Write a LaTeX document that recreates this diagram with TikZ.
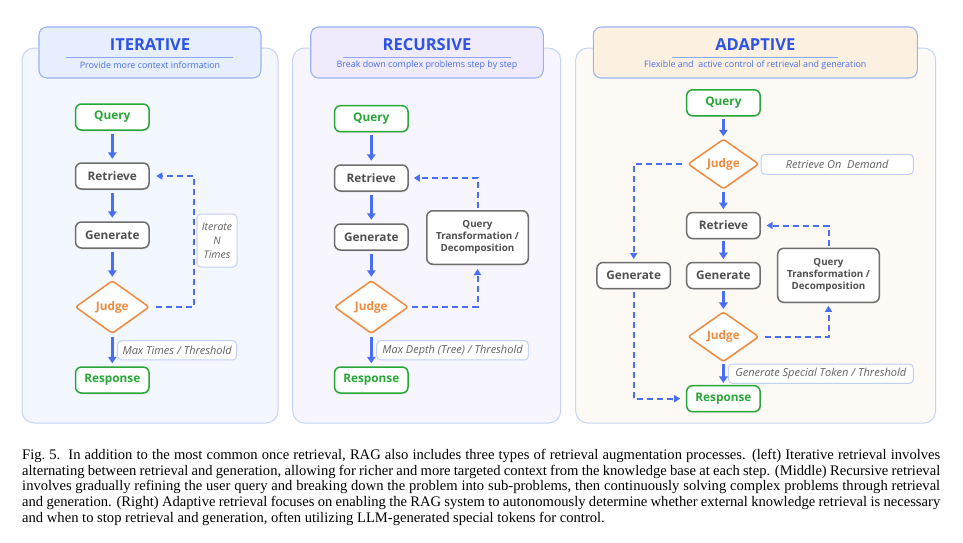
\documentclass[tikz,border=0pt]{standalone}
\usepackage{fontspec}
\setmainfont{Liberation Serif}
\newfontfamily\uisans{Open Sans}
\newcommand\uimed{\uisans\bfseries}
\usetikzlibrary{arrows.meta,shapes.geometric,shadows}
\definecolor{flowblue}{HTML}{4A6EF2}
\definecolor{titleblue}{HTML}{2D54E3}
\definecolor{subblue}{HTML}{4C6FE8}
\definecolor{qgreen}{HTML}{27A737}
\definecolor{jorange}{HTML}{EF8A3E}
\definecolor{nodegray}{HTML}{6E6E6E}
\definecolor{textgray}{HTML}{505050}
\definecolor{lblborder}{HTML}{C3D0F7}
\definecolor{lbltext}{HTML}{626262}
\definecolor{panelborder}{HTML}{C5D3F8}
\definecolor{pfillA}{HTML}{F3F7FF}
\definecolor{pfillB}{HTML}{F7F6FE}
\definecolor{pfillC}{HTML}{FDFAF6}
\definecolor{tfillA}{HTML}{E7EEFD}
\definecolor{tfillB}{HTML}{EFEBFC}
\definecolor{tfillC}{HTML}{FCF0E1}
\definecolor{titleborder}{HTML}{9CB3F2}
\definecolor{titleline}{HTML}{8FA6EE}
\tikzset{
  shadowed/.style={drop shadow={opacity=0.16, shadow xshift=0.5pt, shadow yshift=-1.3pt}},
  panel/.style={draw=panelborder, line width=1pt, rounded corners=12pt},
  titlebox/.style={draw=titleborder, line width=1.1pt, rounded corners=8pt},
  titletext/.style={text=titleblue, font=\uisans\bfseries\fontsize{16.5}{18}\selectfont, inner sep=0pt},
  subtext/.style={text=subblue, font=\uisans\fontsize{8.9}{10}\selectfont, inner sep=0pt},
  tline/.style={draw=titleline, line width=0.8pt},
  stepbox/.style={draw=nodegray, line width=1.5pt, rounded corners=6pt, fill=white, text=textgray,
    font=\uimed\fontsize{11.8}{14}\selectfont, minimum width=73.5pt, minimum height=26pt, inner sep=0pt, shadowed},
  greenbox/.style={stepbox, draw=qgreen, text=qgreen},
  qtbox/.style={stepbox, align=center, font=\uimed\fontsize{9.8}{12}\selectfont, minimum width=101.5pt, minimum height=53.5pt},
  judgebox/.style={diamond, draw=jorange, line width=1.5pt, fill=white, text=jorange,
    font=\uimed\fontsize{11.8}{14}\selectfont, inner sep=0pt, aspect=1.4, minimum width=74pt, minimum height=53pt,
    rounded corners=2.5pt, shadowed},
  lblbox/.style={draw=lblborder, line width=1pt, rounded corners=4pt, fill=white, text=lbltext,
    font=\uisans\itshape\fontsize{11}{13}\selectfont, inner sep=0pt},
  solidflow/.style={draw=flowblue, line width=3pt, -{Triangle[length=6.5pt,width=8.5pt]}},
  dashflow/.style={draw=flowblue, line width=2pt, dash pattern=on 6pt off 4pt, -{Triangle[length=6pt,width=7pt]}},
}
\begin{document}
\begin{tikzpicture}[x=1pt,y=-1pt]
\useasboundingbox[fill=white] (0,0) rectangle (963,542);

% ---------------- panels ----------------
\draw[panel, fill=pfillA] (22,48) rectangle (278,423);
\draw[panel, fill=pfillB] (292.7,48) rectangle (560.7,423);
\draw[panel, fill=pfillC] (575.7,48) rectangle (935.7,423);

\draw[titlebox, fill=tfillA] (39,27) rectangle (261,78);
\draw[titlebox, fill=tfillB] (310.7,27) rectangle (543.3,78);
\draw[titlebox, fill=tfillC] (593.3,27) rectangle (917.3,78);

\node[titletext] (tA) at (150,45) {ITERATIVE};
\node[titletext] (tB) at (427,45) {RECURSIVE};
\node[titletext] (tC) at (755.3,45) {ADAPTIVE};
\draw[tline] (66,57) -- (233,57);
\draw[tline] (342.7,57) -- (510.7,57);
\draw[tline] (671.7,57) -- (838.3,57);
\node[subtext] (sA) at (150,65) {Provide more context information};
\node[subtext] (sB) at (427,65) {Break down complex problems step by step};
\node[subtext] (sC) at (755.3,65) {Flexible and\ \ active control of retrieval and generation};

% ---------------- left: iterative ----------------
\node[greenbox] (q1) at (112.3,117) {Query};
\node[stepbox] (r1) at (112.3,176) {Retrieve};
\node[stepbox] (g1) at (112.3,235) {Generate};
\node[judgebox] (j1) at (112.3,307) {Judge};
\node[greenbox] (o1) at (112.3,380) {Response};
\node[lblbox, minimum width=40pt, minimum height=53pt, align=center, font=\uisans\itshape\fontsize{10.5}{14}\selectfont] (n1) at (217,240.5) {Iterate\\N\\Times};
\node[lblbox, minimum width=119pt, minimum height=19.3pt] (m1) at (177.2,350.3) {Max Times / Threshold};

\draw[solidflow, shorten <=3pt, shorten >=3.5pt] (q1) -- (r1);
\draw[solidflow, shorten <=3pt, shorten >=3.5pt] (r1) -- (g1);
\draw[solidflow, shorten <=3pt, shorten >=3pt] (g1) -- (j1);
\draw[solidflow, shorten <=3pt, shorten >=3pt] (j1) -- (o1);
\coordinate (c1) at (194,307);
\draw[dashflow, shorten <=6pt, shorten >=6.5pt] (j1.east) -- (c1) |- (r1.east);

% ---------------- middle: recursive ----------------
\node[greenbox] (q2) at (371.3,118.7) {Query};
\node[stepbox] (r2) at (371.3,178) {Retrieve};
\node[stepbox] (g2) at (371.3,237) {Generate};
\node[judgebox] (j2) at (371.3,307) {Judge};
\node[greenbox] (o2) at (371.3,380) {Response};
\node[qtbox] (qt2) at (477.5,237.5) {Query\\Transformation /\\Decomposition};
\node[lblbox, minimum width=151.6pt, minimum height=19.3pt] (m2) at (452.5,350.3) {Max Depth (Tree) / Threshold};

\draw[solidflow, shorten <=3pt, shorten >=3.5pt] (q2) -- (r2);
\draw[solidflow, shorten <=3pt, shorten >=3.5pt] (r2) -- (g2);
\draw[solidflow, shorten <=3pt, shorten >=3pt] (g2) -- (j2);
\draw[solidflow, shorten <=3pt, shorten >=3pt] (j2) -- (o2);
\coordinate (c2a) at (477.5,178);
\draw[dashflow, shorten <=2pt, shorten >=5pt] (qt2.north) -- (c2a) -- (r2.east);
\coordinate (c2b) at (477.5,307);
\draw[dashflow, shorten <=3pt, shorten >=4pt] (j2.east) -- (c2b) -- (qt2.south);

% ---------------- right: adaptive ----------------
\node[greenbox] (q3) at (723.4,102.8) {Query};
\node[judgebox, minimum width=71pt, minimum height=50pt] (j3a) at (723.4,164) {Judge};
\node[lblbox, minimum width=152.3pt, minimum height=20pt] (d3) at (837.2,164.3) {Retrieve On\ \ Demand};
\node[stepbox] (r3) at (723.4,225.5) {Retrieve};
\node[stepbox] (g3) at (723.4,275.5) {Generate};
\node[stepbox] (gl3) at (633.7,275.5) {Generate};
\node[qtbox, minimum width=101.6pt, minimum height=54pt] (qt3) at (828.5,275.3) {Query\\Transformation /\\Decomposition};
\node[judgebox, minimum width=71pt, minimum height=50pt] (j3b) at (723.4,336.7) {Judge};
\node[greenbox] (o3) at (723.4,398.7) {Response};
\node[lblbox, minimum width=185pt, minimum height=19.3pt] (m3) at (820.8,373.7) {Generate Special Token / Threshold};

\draw[solidflow, shorten <=2.6pt, shorten >=2pt] (q3) -- (j3a);
\draw[solidflow, shorten <=2pt, shorten >=2.7pt] (j3a) -- (r3);
\draw[solidflow, shorten <=2pt, shorten >=2.7pt] (r3) -- (g3);
\draw[solidflow, shorten <=2pt, shorten >=2pt] (g3) -- (j3b);
\draw[solidflow, shorten <=2pt, shorten >=2pt] (j3b) -- (o3);

\coordinate (c3a) at (633.7,164);
\draw[dashflow, shorten <=5pt, shorten >=2.7pt] (j3a.west) -- (c3a) -- (gl3.north);
\coordinate (c3b) at (633.7,398.7);
\draw[dashflow, shorten <=2.4pt, shorten >=5.7pt] (gl3.south) -- (c3b) -- (o3.west);
\coordinate (c3c) at (828.5,225.5);
\draw[dashflow, shorten <=1.6pt, shorten >=5.7pt] (qt3.north) -- (c3c) -- (r3.east);
\coordinate (c3d) at (828.5,336.7);
\draw[dashflow, shorten <=5pt, shorten >=2.7pt] (j3b.east) -- (c3d) -- (qt3.south);

% ---------------- caption ----------------
\node[anchor=base west, text width=918pt, align=justify, inner sep=0pt,
      font=\fontsize{14.6}{15.8}\selectfont] (cap) at (22,459.3)
{Fig.~5.\hspace{0.55em}In addition to the most common once retrieval, RAG also includes three types of retrieval augmentation processes. (left) Iterative retrieval involves\linebreak
alternating between retrieval and generation, allowing for richer and more targeted context from the knowledge base at each step. (Middle) Recursive retrieval\linebreak
involves gradually refining the user query and breaking down the problem into sub-problems, then continuously solving complex problems through retrieval\linebreak
and generation. (Right) Adaptive retrieval focuses on enabling the RAG system to autonomously determine whether external knowledge retrieval is necessary\linebreak
and when to stop retrieval and generation, often utilizing LLM-generated special tokens for control.};
\end{tikzpicture}
\end{document}
